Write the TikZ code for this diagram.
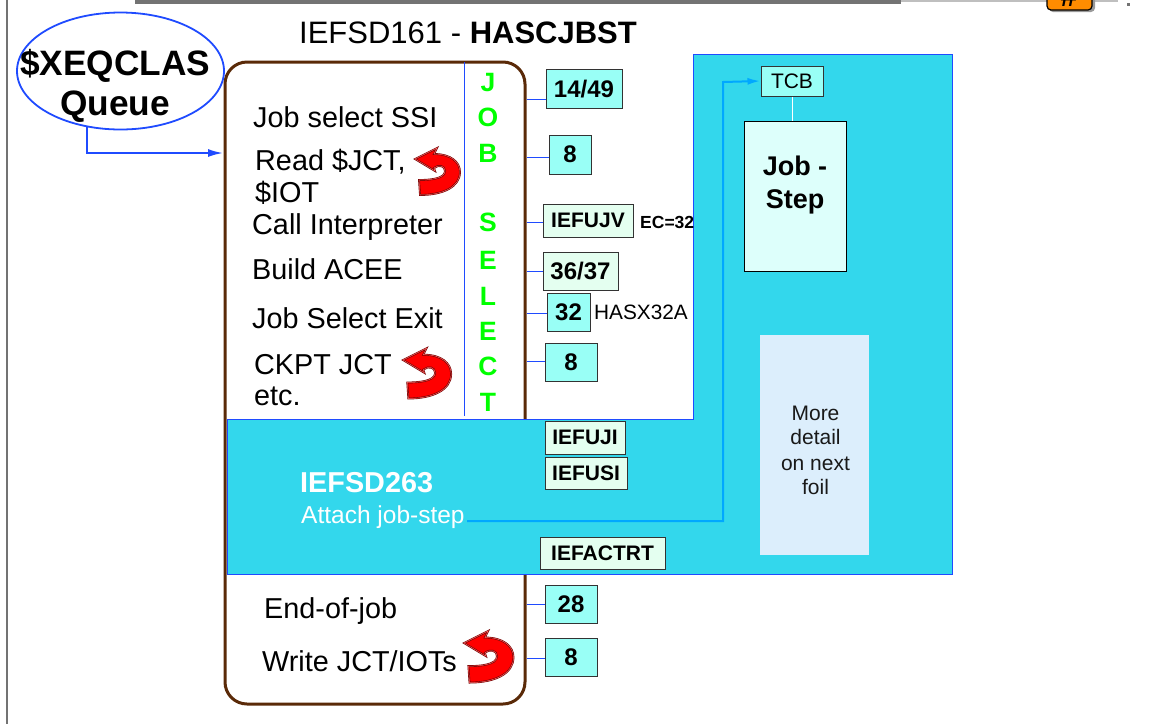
\documentclass[tikz,border=0pt]{standalone}
\usepackage{fontspec}
\setmainfont{Liberation Sans}
\usetikzlibrary{shapes.geometric,arrows.meta}
\definecolor{brownline}{HTML}{5A2A08}
\definecolor{foilblue}{HTML}{1F4BFF}
\definecolor{skyline}{HTML}{00A8FF}
\definecolor{panelcyan}{HTML}{33D7EC}
\definecolor{stepcyan}{HTML}{99FFF6}
\definecolor{exitgreen}{HTML}{E4FFF0}
\definecolor{jobstepfill}{HTML}{DDFFFB}
\definecolor{notefill}{HTML}{DCEEFC}
\newcommand{\fsz}[1]{\fontsize{#1}{#1}\selectfont}
\newcommand{\uturnpath}{(0,0) -- (22,-11) -- (19,-5)
      .. controls (36,-5) and (45,3) .. (45,13)
      .. controls (45,28) and (28,36) .. (5,36)
      -- (4,21)
      .. controls (14,21) and (30,20) .. (30,12)
      .. controls (30,7) and (24,5) .. (19,9) -- (20,12) -- cycle}
\tikzset{
  txt/.style={anchor=base west,inner sep=0,font=\fsz{28.8}},
  stepbox/.style={draw=black!80,line width=1,inner sep=0,fill=stepcyan,font=\bfseries\fsz{24}},
  exitbox/.style={stepbox,fill=exitgreen,font=\bfseries\fsz{21}},
  stepline/.style={foilblue,line width=1},
  uturn/.pic={
    \draw[fill=red,draw=red!45!black,line width=1.8] \uturnpath;
    \draw[red!60!white,line width=0.5] \uturnpath;
  }
}
\begin{document}
\begin{tikzpicture}[x=1pt,y=-1pt]
  \useasboundingbox (0,0) rectangle (1171,724);
  \fill[white] (0,0) rectangle (1171,724);
  % page furniture
  \fill[black!55] (6,0) rectangle (8,724);
  \fill[black!55] (135,0) rectangle (901,4);
  \fill[black!25] (901,0) rectangle (1118,1.5);
  \fill[black!55] (1127,3) rectangle (1129.5,6);
  \begin{scope}
    \clip (0,0) rectangle (1171,724);
    \fill[black!40,rounded corners=4] (1049,-12) rectangle (1095,12);
    \draw[fill=orange!90!yellow,line width=1.2,rounded corners=4] (1047,-12) rectangle (1092,10);
    \node (hash) at (1069,6) [anchor=base,inner sep=0,font=\bfseries\fsz{30}] {\#};
  \end{scope}

  \node (title) at (299,43) [txt,font=\fsz{31}] {IEFSD161 - \textbf{HASCJBST}};

  \node (main) at (375,383) [draw=brownline,line width=3,rounded corners=22,minimum width=300,minimum height=642,inner sep=0] {};
  \coordinate (split) at (464,62);
  \coordinate (splitend) at (464,416);
  \draw[foilblue,line width=0.8] (split) -- (splitend);

  \node (xeq) at (120.5,71) [ellipse,draw=foilblue,line width=1.8,minimum width=207,minimum height=117,inner sep=0] {};
  \node (xeqtext) at (20,75) [txt,font=\bfseries\fsz{35.3}] {\$XEQCLAS};
  \node (queuetext) at (60,115) [txt,font=\bfseries\fsz{35.3}] {Queue};
  \coordinate (mainin) at (223,153);
  \draw[foilblue,line width=1.8,-{Latex[length=15,width=8]}] (xeq.239) |- (mainin);

  % text in the job box
  \foreach \n/\x/\y/\t in {a/253/127/Job select SSI,b/255/170/{Read \$JCT,},c/255/202/\$IOT,d/252/234/Call Interpreter,e/252/279/Build ACEE,f/252/328/Job Select Exit,g/254/374/CKPT JCT,h/254/405/etc.,i/264/618/End-of-job,j/262/671/{Write JCT/IOTs}}
  {
    \node (line\n) at (\x,\y) [txt] {\t};
  }

  \foreach \n/\l/\y in {1/J/91,2/O/126,3/B/162,4/S/231,5/E/269,6/L/305,7/E/340,8/C/375,9/T/411}
  {
    \node (sel\n) at (488,\y) [anchor=base,inner sep=0,text=green,font=\bfseries\fsz{26.5}] {\l};
  }

  % undo arrows
  \pic at (415,159) {uturn};
  \pic[scale=1.07] at (403,360) {uturn};
  \pic[scale=1.1] at (464,643) {uturn};

  % the cyan panel
  \fill[panelcyan,draw=foilblue,line width=1] (693,54) -- (952,54) -- (952,574) -- (227,574) -- (227,419) -- (693,419) -- cycle;

  \foreach \n/\x/\y/\w/\h/\d/\t in {s1/584/89/76/39/10/14\slash49,s2/570/154.5/42/39/2.5/8,s5/568.5/312.5/43/38/0.5/32,s6/571/362/52/38/-1/8,s7/571/604/52/38/0/28,s8/571/657/52/38/1/8}
  {
    \node (\n) at (\x,\y) [stepbox,minimum width=\w,minimum height=\h] {\t};
    \draw[stepline] ([yshift=-\d]\n.west) -- ([yshift=-\d]\n.west -| main.east);
  }
  \node (s3) at (588,220.5) [exitbox,minimum width=90,minimum height=33] {IEFUJV};
  \draw[stepline] ([yshift=-1.5]s3.west) -- ([yshift=-1.5]s3.west -| main.east);
  \node (s4) at (580.5,271) [exitbox,minimum width=75,minimum height=38,font=\bfseries\fsz{24}] {36\slash37};
  \draw[stepline] (s4.west) -- (s4.west -| main.east);
  \foreach \n/\x/\y/\w/\h/\t in {e1/585/437.5/80/33/IEFUJI,e2/586/473.5/82/32/IEFUSI,e3/602.5/553/125/32/IEFACTRT}
  {
    \node (\n) at (\x,\y) [exitbox,minimum width=\w,minimum height=\h] {\t};
  }
  \node (ec) at (640,228) [txt,font=\bfseries\fsz{17.5}] {EC=32};
  \node (hasx) at (594,319) [txt,font=\fsz{20.8}] {HASX32A};

  \node (sd263) at (300,492) [txt,text=white,font=\bfseries\fsz{28.8}] {IEFSD263};
  \node (attach) at (301,523) [txt,text=white,font=\fsz{24.5}] {Attach job-step};

  \node (tcb) at (792,81) [stepbox,minimum width=62,minimum height=30,font=\fsz{21}] {TCB};
  \node (jobstep) at (795,196) [draw=black,line width=1,inner sep=0,fill=jobstepfill,minimum width=102,minimum height=150] {};
  \node (jobsteplabel) at (795,185) [inner sep=0,align=center,font=\bfseries\fsz{27}] {Job -\\[6pt]Step};
  \draw[white,line width=0.7] (tcb.south) -- (tcb.south |- jobstep.north);
  \node (note) at (814.5,445) [inner sep=0,fill=notefill,minimum width=109,minimum height=220] {};
  \node (notelabel) at (815.5,450) [inner sep=0,align=center,font=\fsz{21},text=black!90] {More\\[3pt]detail\\[5pt]on next\\[3pt]foil};

  \coordinate (attachout) at (467,521);
  \draw[skyline,line width=2,-{Latex[length=13,width=7]}] (attachout) -| (723,82) -- (tcb.west);
\end{tikzpicture}
\end{document}
